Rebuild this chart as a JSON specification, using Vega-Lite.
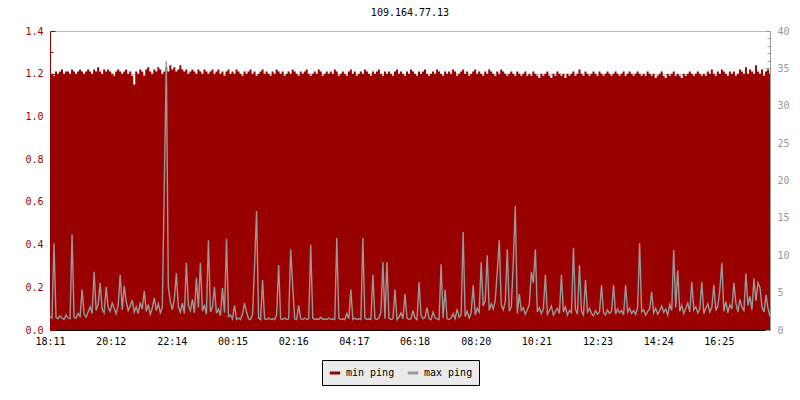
{
"$schema":"https://vega.github.io/schema/vega-lite/v6.json",
"autosize":{"type":"none"},
"width":720,"height":299,
"padding":{"left":50,"top":31,"right":30,"bottom":70},
"background":"white",
"config":{"view":{"stroke":null},"font":"DejaVu Sans Mono"},
"title":{"text":"109.164.77.13","font":"DejaVu Sans Mono","fontSize":10,"fontWeight":"normal","color":"black","anchor":"middle","baseline":"alphabetic","offset":0},
"data":{"values":[
{"t":0,"a":1.21,"b":1.8},{"t":4,"a":1.20,"b":1.6},{"t":8,"a":1.19,"b":11.6},{"t":12,"a":1.21,"b":1.7},{"t":16,"a":1.20,"b":1.5},{"t":20,"a":1.21,"b":1.9},{"t":24,"a":1.22,"b":1.6},{"t":28,"a":1.20,"b":1.4},{"t":32,"a":1.21,"b":2.0},{"t":36,"a":1.21,"b":1.6},
{"t":40,"a":1.20,"b":1.5},{"t":44,"a":1.22,"b":12.8},{"t":48,"a":1.21,"b":1.7},{"t":52,"a":1.20,"b":1.6},{"t":56,"a":1.21,"b":2.2},{"t":60,"a":1.22,"b":1.8},{"t":64,"a":1.21,"b":5.4},{"t":68,"a":1.20,"b":2.1},{"t":72,"a":1.21,"b":1.7},{"t":76,"a":1.22,"b":2.4},
{"t":80,"a":1.21,"b":3.1},{"t":84,"a":1.20,"b":2.2},{"t":88,"a":1.22,"b":7.8},{"t":92,"a":1.21,"b":2.6},{"t":96,"a":1.23,"b":3.4},{"t":100,"a":1.21,"b":6.3},{"t":104,"a":1.20,"b":2.8},{"t":108,"a":1.22,"b":2.3},{"t":112,"a":1.21,"b":5.75},{"t":116,"a":1.22,"b":3.0},
{"t":120,"a":1.21,"b":2.5},{"t":124,"a":1.20,"b":3.6},{"t":128,"a":1.19,"b":2.9},{"t":132,"a":1.21,"b":2.2},{"t":136,"a":1.22,"b":3.3},{"t":140,"a":1.21,"b":7.4},{"t":144,"a":1.20,"b":2.7},{"t":148,"a":1.21,"b":5.9},{"t":152,"a":1.22,"b":3.8},{"t":156,"a":1.20,"b":2.6},
{"t":160,"a":1.21,"b":3.2},{"t":164,"a":1.19,"b":4.0},{"t":168,"a":1.15,"b":2.4},{"t":172,"a":1.21,"b":3.1},{"t":176,"a":1.20,"b":2.2},{"t":180,"a":1.22,"b":3.7},{"t":184,"a":1.21,"b":2.8},{"t":188,"a":1.19,"b":5.2},{"t":192,"a":1.22,"b":2.5},{"t":196,"a":1.23,"b":3.4},
{"t":200,"a":1.21,"b":2.1},{"t":204,"a":1.20,"b":2.9},{"t":208,"a":1.22,"b":4.3},{"t":212,"a":1.21,"b":2.6},{"t":216,"a":1.23,"b":3.5},{"t":220,"a":1.22,"b":2.3},{"t":224,"a":1.20,"b":3.0},{"t":228,"a":1.21,"b":19.5},{"t":232,"a":1.23,"b":36},{"t":236,"a":1.21,"b":5.7},
{"t":240,"a":1.24,"b":3.8},{"t":244,"a":1.22,"b":2.7},{"t":248,"a":1.23,"b":4.2},{"t":252,"a":1.21,"b":7.6},{"t":256,"a":1.22,"b":3.1},{"t":260,"a":1.24,"b":2.4},{"t":264,"a":1.22,"b":3.6},{"t":268,"a":1.21,"b":2.2},{"t":272,"a":1.22,"b":9.0},{"t":276,"a":1.20,"b":3.3},
{"t":280,"a":1.21,"b":2.6},{"t":284,"a":1.22,"b":4.1},{"t":288,"a":1.21,"b":2.3},{"t":292,"a":1.20,"b":7.0},{"t":296,"a":1.22,"b":3.0},{"t":300,"a":1.21,"b":9.0},{"t":304,"a":1.20,"b":2.5},{"t":308,"a":1.22,"b":3.4},{"t":312,"a":1.21,"b":2.1},{"t":316,"a":1.20,"b":12.0},
{"t":320,"a":1.21,"b":2.4},{"t":324,"a":1.22,"b":3.0},{"t":328,"a":1.20,"b":5.75},{"t":332,"a":1.21,"b":2.2},{"t":336,"a":1.22,"b":2.8},{"t":340,"a":1.20,"b":1.9},{"t":344,"a":1.21,"b":5.6},{"t":348,"a":1.19,"b":2.3},{"t":352,"a":1.21,"b":12.2},{"t":356,"a":1.22,"b":1.8},
{"t":360,"a":1.20,"b":2.0},{"t":364,"a":1.21,"b":1.5},{"t":368,"a":1.20,"b":3.3},{"t":372,"a":1.22,"b":1.4},{"t":376,"a":1.21,"b":1.6},{"t":380,"a":1.20,"b":1.4},{"t":384,"a":1.19,"b":2.2},{"t":388,"a":1.21,"b":3.6},{"t":392,"a":1.20,"b":2.4},{"t":396,"a":1.21,"b":1.5},
{"t":400,"a":1.22,"b":1.4},{"t":404,"a":1.20,"b":2.1},{"t":408,"a":1.21,"b":8.6},{"t":412,"a":1.19,"b":15.9},{"t":416,"a":1.20,"b":1.6},{"t":420,"a":1.21,"b":1.4},{"t":424,"a":1.22,"b":6.7},{"t":428,"a":1.20,"b":1.5},{"t":432,"a":1.21,"b":1.4},{"t":436,"a":1.20,"b":1.6},
{"t":440,"a":1.19,"b":1.4},{"t":444,"a":1.21,"b":1.5},{"t":448,"a":1.20,"b":1.4},{"t":452,"a":1.22,"b":2.0},{"t":456,"a":1.21,"b":8.7},{"t":460,"a":1.20,"b":1.5},{"t":464,"a":1.21,"b":1.4},{"t":468,"a":1.19,"b":1.6},{"t":472,"a":1.20,"b":1.4},{"t":476,"a":1.21,"b":1.5},
{"t":480,"a":1.20,"b":10.8},{"t":484,"a":1.22,"b":6.0},{"t":488,"a":1.21,"b":1.5},{"t":492,"a":1.20,"b":1.4},{"t":496,"a":1.19,"b":3.3},{"t":500,"a":1.21,"b":1.5},{"t":504,"a":1.20,"b":1.4},{"t":508,"a":1.21,"b":1.6},{"t":512,"a":1.22,"b":1.4},{"t":516,"a":1.20,"b":1.5},
{"t":520,"a":1.19,"b":11.4},{"t":524,"a":1.20,"b":1.6},{"t":528,"a":1.21,"b":1.4},{"t":532,"a":1.20,"b":1.5},{"t":536,"a":1.22,"b":1.4},{"t":540,"a":1.21,"b":1.7},{"t":544,"a":1.19,"b":1.4},{"t":548,"a":1.20,"b":1.5},{"t":552,"a":1.21,"b":1.4},{"t":556,"a":1.20,"b":1.6},
{"t":560,"a":1.21,"b":1.4},{"t":564,"a":1.20,"b":1.5},{"t":568,"a":1.22,"b":1.4},{"t":572,"a":1.21,"b":12.3},{"t":576,"a":1.19,"b":1.6},{"t":580,"a":1.20,"b":1.4},{"t":584,"a":1.21,"b":1.5},{"t":588,"a":1.20,"b":1.4},{"t":592,"a":1.19,"b":2.2},{"t":596,"a":1.21,"b":1.5},
{"t":600,"a":1.22,"b":5.4},{"t":604,"a":1.20,"b":1.4},{"t":608,"a":1.21,"b":1.6},{"t":612,"a":1.19,"b":1.4},{"t":616,"a":1.20,"b":1.5},{"t":620,"a":1.21,"b":1.4},{"t":624,"a":1.20,"b":12.3},{"t":628,"a":1.22,"b":1.6},{"t":632,"a":1.21,"b":1.4},{"t":636,"a":1.20,"b":1.5},
{"t":640,"a":1.19,"b":1.4},{"t":644,"a":1.21,"b":7.4},{"t":648,"a":1.20,"b":1.5},{"t":652,"a":1.21,"b":1.4},{"t":656,"a":1.22,"b":1.6},{"t":660,"a":1.20,"b":2.4},{"t":664,"a":1.19,"b":9.1},{"t":668,"a":1.21,"b":1.5},{"t":672,"a":1.20,"b":9.1},{"t":676,"a":1.21,"b":1.6},
{"t":680,"a":1.20,"b":1.4},{"t":684,"a":1.19,"b":1.5},{"t":688,"a":1.21,"b":5.4},{"t":692,"a":1.22,"b":1.4},{"t":696,"a":1.20,"b":1.7},{"t":700,"a":1.21,"b":2.3},{"t":704,"a":1.20,"b":1.5},{"t":708,"a":1.19,"b":4.8},{"t":712,"a":1.21,"b":1.6},{"t":716,"a":1.20,"b":1.4},
{"t":720,"a":1.22,"b":1.5},{"t":724,"a":1.21,"b":2.6},{"t":728,"a":1.20,"b":1.6},{"t":732,"a":1.19,"b":1.4},{"t":736,"a":1.21,"b":6.4},{"t":740,"a":1.20,"b":2.0},{"t":744,"a":1.21,"b":1.5},{"t":748,"a":1.22,"b":1.7},{"t":752,"a":1.20,"b":3.0},{"t":756,"a":1.19,"b":1.5},
{"t":760,"a":1.20,"b":1.4},{"t":764,"a":1.21,"b":2.4},{"t":768,"a":1.20,"b":1.6},{"t":772,"a":1.22,"b":1.5},{"t":776,"a":1.21,"b":1.4},{"t":780,"a":1.20,"b":8.8},{"t":784,"a":1.19,"b":1.6},{"t":788,"a":1.21,"b":5.4},{"t":792,"a":1.20,"b":1.5},{"t":796,"a":1.21,"b":1.4},
{"t":800,"a":1.20,"b":1.6},{"t":804,"a":1.22,"b":2.2},{"t":808,"a":1.21,"b":1.5},{"t":812,"a":1.19,"b":2.8},{"t":816,"a":1.20,"b":1.7},{"t":820,"a":1.21,"b":2.0},{"t":824,"a":1.22,"b":13.1},{"t":828,"a":1.20,"b":1.8},{"t":832,"a":1.21,"b":2.5},{"t":836,"a":1.19,"b":1.6},
{"t":840,"a":1.20,"b":2.3},{"t":844,"a":1.21,"b":6.0},{"t":848,"a":1.22,"b":2.0},{"t":852,"a":1.20,"b":2.9},{"t":856,"a":1.21,"b":2.4},{"t":860,"a":1.20,"b":9.1},{"t":864,"a":1.19,"b":3.2},{"t":868,"a":1.21,"b":3.9},{"t":872,"a":1.20,"b":10.0},{"t":876,"a":1.22,"b":2.6},
{"t":880,"a":1.21,"b":3.5},{"t":884,"a":1.20,"b":2.8},{"t":888,"a":1.19,"b":4.0},{"t":892,"a":1.21,"b":7.8},{"t":896,"a":1.20,"b":12.0},{"t":900,"a":1.22,"b":3.3},{"t":904,"a":1.21,"b":2.7},{"t":908,"a":1.20,"b":3.8},{"t":912,"a":1.19,"b":10.8},{"t":916,"a":1.20,"b":2.5},
{"t":920,"a":1.21,"b":3.1},{"t":924,"a":1.20,"b":9.1},{"t":928,"a":1.19,"b":16.6},{"t":932,"a":1.21,"b":2.2},{"t":936,"a":1.20,"b":4.8},{"t":940,"a":1.19,"b":2.6},{"t":944,"a":1.20,"b":3.0},{"t":948,"a":1.21,"b":2.1},{"t":952,"a":1.19,"b":2.7},{"t":956,"a":1.20,"b":3.4},
{"t":960,"a":1.19,"b":7.8},{"t":964,"a":1.21,"b":6.3},{"t":968,"a":1.20,"b":10.8},{"t":972,"a":1.19,"b":2.4},{"t":976,"a":1.18,"b":3.0},{"t":980,"a":1.20,"b":2.2},{"t":984,"a":1.19,"b":2.8},{"t":988,"a":1.20,"b":7.4},{"t":992,"a":1.21,"b":2.1},{"t":996,"a":1.19,"b":2.6},
{"t":1000,"a":1.18,"b":3.2},{"t":1004,"a":1.20,"b":2.0},{"t":1008,"a":1.19,"b":2.5},{"t":1012,"a":1.21,"b":2.9},{"t":1016,"a":1.20,"b":2.2},{"t":1020,"a":1.19,"b":7.4},{"t":1024,"a":1.20,"b":2.4},{"t":1028,"a":1.18,"b":3.1},{"t":1032,"a":1.20,"b":2.0},{"t":1036,"a":1.19,"b":2.6},
{"t":1040,"a":1.20,"b":2.3},{"t":1044,"a":1.21,"b":11.0},{"t":1048,"a":1.19,"b":2.8},{"t":1052,"a":1.20,"b":2.1},{"t":1056,"a":1.22,"b":8.7},{"t":1060,"a":1.20,"b":2.5},{"t":1064,"a":1.19,"b":2.0},{"t":1068,"a":1.21,"b":6.7},{"t":1072,"a":1.20,"b":2.4},{"t":1076,"a":1.19,"b":2.9},
{"t":1080,"a":1.20,"b":2.2},{"t":1084,"a":1.21,"b":1.9},{"t":1088,"a":1.20,"b":2.6},{"t":1092,"a":1.19,"b":2.1},{"t":1096,"a":1.21,"b":2.4},{"t":1100,"a":1.20,"b":6.0},{"t":1104,"a":1.19,"b":2.3},{"t":1108,"a":1.20,"b":2.0},{"t":1112,"a":1.21,"b":2.7},{"t":1116,"a":1.20,"b":2.2},
{"t":1120,"a":1.19,"b":2.5},{"t":1124,"a":1.20,"b":6.0},{"t":1128,"a":1.21,"b":2.1},{"t":1132,"a":1.20,"b":2.8},{"t":1136,"a":1.19,"b":2.3},{"t":1140,"a":1.20,"b":2.6},{"t":1144,"a":1.21,"b":2.0},{"t":1148,"a":1.19,"b":6.0},{"t":1152,"a":1.20,"b":2.4},{"t":1156,"a":1.21,"b":2.9},
{"t":1160,"a":1.20,"b":2.2},{"t":1164,"a":1.19,"b":2.6},{"t":1168,"a":1.20,"b":2.1},{"t":1172,"a":1.21,"b":3.0},{"t":1176,"a":1.20,"b":11.6},{"t":1180,"a":1.19,"b":2.4},{"t":1184,"a":1.20,"b":2.7},{"t":1188,"a":1.19,"b":2.0},{"t":1192,"a":1.21,"b":2.5},{"t":1196,"a":1.20,"b":2.8},
{"t":1200,"a":1.19,"b":5.1},{"t":1204,"a":1.20,"b":2.3},{"t":1208,"a":1.18,"b":2.9},{"t":1212,"a":1.19,"b":2.1},{"t":1216,"a":1.20,"b":2.6},{"t":1220,"a":1.21,"b":3.2},{"t":1224,"a":1.19,"b":2.4},{"t":1228,"a":1.18,"b":2.8},{"t":1232,"a":1.20,"b":2.0},{"t":1236,"a":1.19,"b":3.4},
{"t":1240,"a":1.20,"b":2.6},{"t":1244,"a":1.21,"b":10.7},{"t":1248,"a":1.19,"b":3.0},{"t":1252,"a":1.20,"b":8.0},{"t":1256,"a":1.19,"b":2.5},{"t":1260,"a":1.18,"b":3.3},{"t":1264,"a":1.20,"b":2.2},{"t":1268,"a":1.19,"b":2.9},{"t":1272,"a":1.20,"b":3.6},{"t":1276,"a":1.21,"b":2.4},
{"t":1280,"a":1.20,"b":6.4},{"t":1284,"a":1.19,"b":2.7},{"t":1288,"a":1.20,"b":3.1},{"t":1292,"a":1.21,"b":2.3},{"t":1296,"a":1.20,"b":2.8},{"t":1300,"a":1.19,"b":6.4},{"t":1304,"a":1.20,"b":2.2},{"t":1308,"a":1.19,"b":2.9},{"t":1312,"a":1.21,"b":3.5},{"t":1316,"a":1.20,"b":2.4},
{"t":1320,"a":1.22,"b":3.0},{"t":1324,"a":1.20,"b":6.0},{"t":1328,"a":1.19,"b":2.6},{"t":1332,"a":1.21,"b":3.2},{"t":1336,"a":1.20,"b":5.4},{"t":1340,"a":1.22,"b":9.0},{"t":1344,"a":1.21,"b":2.5},{"t":1348,"a":1.20,"b":3.8},{"t":1352,"a":1.19,"b":2.3},{"t":1356,"a":1.21,"b":3.4},
{"t":1360,"a":1.20,"b":2.8},{"t":1364,"a":1.21,"b":6.3},{"t":1368,"a":1.19,"b":3.6},{"t":1372,"a":1.20,"b":2.4},{"t":1376,"a":1.22,"b":4.1},{"t":1380,"a":1.21,"b":3.0},{"t":1384,"a":1.20,"b":2.6},{"t":1388,"a":1.23,"b":7.6},{"t":1392,"a":1.20,"b":3.3},{"t":1396,"a":1.22,"b":4.5},
{"t":1400,"a":1.21,"b":2.7},{"t":1404,"a":1.20,"b":6.9},{"t":1408,"a":1.24,"b":3.9},{"t":1412,"a":1.21,"b":6.3},{"t":1416,"a":1.20,"b":5.7},{"t":1420,"a":1.22,"b":3.1},{"t":1424,"a":1.19,"b":2.4},{"t":1428,"a":1.21,"b":4.7},{"t":1432,"a":1.22,"b":2.9},{"t":1436,"a":1.20,"b":1.8}
]},
"encoding":{
"x":{"field":"t","type":"quantitative","scale":{"domain":[0,1436],"nice":false,"zero":false},
"axis":{"title":null,"orient":"bottom","values":[0,121,243,364,485,606,727,849,970,1092,1213,1334],
"labelExpr":"timeFormat(datetime(2020,0,1,18,11+datum.value),'%H:%M')",
"labelFont":"DejaVu Sans Mono","labelFontSize":10,"labelColor":"black","labelFlush":false,"labelOverlap":false,
"domainColor":"black","tickColor":"black","tickSize":-5,"labelPadding":11,"grid":false}}
},
"layer":[
{"mark":{"type":"area","interpolate":"step","color":"#990000","clip":true},
"encoding":{
"y":{"field":"a","type":"quantitative","scale":{"domain":[0,1.4],"nice":false},
"axis":{"title":null,"orient":"left","values":[0,0.1,0.2,0.3,0.4,0.5,0.6,0.7,0.8,0.9,1.0,1.1,1.2,1.3,1.4],
"labelExpr":"round(datum.value*10)%2===0 ? format(datum.value,'.1f') : ''",
"labelFont":"DejaVu Sans Mono","labelFontSize":10,"labelColor":"#990000","labelOverlap":false,
"domainColor":"#990000","tickColor":"#990000",
"tickSize":{"condition":{"test":"round(datum.value*10)%2===0","value":-5},"value":-3},
"labelPadding":12,
"grid":true,"gridColor":"#bbbbbb",
"gridOpacity":{"condition":{"test":"round(datum.value*10)%2===0","value":1},"value":0}}},
"color":{"datum":"min ping","type":"nominal","scale":{"domain":["min ping","max ping"],"range":["#990000","#999999"]},
"legend":{"title":null,"orient":"none","legendX":272,"legendY":329,"direction":"horizontal",
"symbolType":"stroke","symbolSize":110,"symbolStrokeWidth":3,
"labelFont":"DejaVu Sans Mono","labelFontSize":10,"labelColor":"black","labelOffset":4,"columnPadding":6,
"padding":6,"fillColor":"#eaeaea","strokeColor":"black",
"encode":{"symbols":{"update":{"stroke":{"scale":"color","field":"value"},"strokeWidth":{"value":3}}}}}}
}},
{"mark":{"type":"line","interpolate":"linear","color":"#999999","strokeWidth":1.4,"clip":true},
"encoding":{
"y":{"field":"b","type":"quantitative","scale":{"domain":[0,40],"nice":false},
"axis":{"title":null,"orient":"right","values":[0,1,2,3,4,5,6,7,8,9,10,11,12,13,14,15,16,17,18,19,20,21,22,23,24,25,26,27,28,29,30,31,32,33,34,35,36,37,38,39,40],
"labelExpr":"datum.value%5===0 ? datum.label : ''",
"labelFont":"DejaVu Sans Mono","labelFontSize":10,"labelColor":"#999999","labelOverlap":false,
"domainColor":"#999999","tickColor":"#999999",
"tickSize":{"condition":{"test":"datum.value%5===0","value":-5},"value":-3},
"labelPadding":12,"grid":false}},
"color":{"datum":"max ping","type":"nominal"}
}}
],
"resolve":{"scale":{"y":"independent"}}
}
